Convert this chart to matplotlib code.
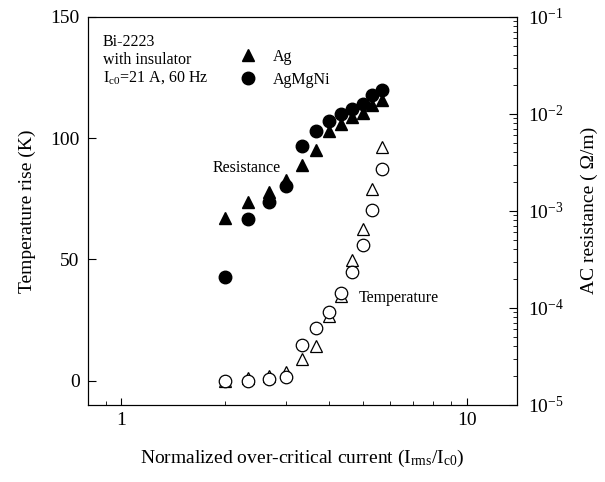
import matplotlib
matplotlib.use("Agg")
import matplotlib.pyplot as plt
from matplotlib.lines import Line2D
from matplotlib.ticker import LogLocator, NullFormatter, FixedLocator

plt.rcParams['font.family'] = ['Liberation Serif', 'DejaVu Serif']
plt.rcParams['mathtext.fontset'] = 'custom'
plt.rcParams['mathtext.rm'] = 'Liberation Serif'
plt.rcParams['mathtext.it'] = 'Liberation Serif'

# normalized current I_rms / I_c0 (steps of 7 A with I_c0 = 21 A)
current = [2.0, 2.33, 2.67, 3.0, 3.33, 3.67, 4.0, 4.33, 4.67, 5.0, 5.33, 5.67]

# temperature rise (K), open symbols
temp_ag = [0.0, 1.0, 2.0, 3.5, 8.9, 14.4, 26.5, 34.7, 49.9, 62.5, 79.0, 96.3]
temp_agmgni = [0.0, 0.0, 0.5, 1.7, 14.8, 21.7, 28.1, 36.1, 45.0, 56.0, 70.5, 87.2]

# AC resistance (ohm/m), filled symbols
res_ag = [8.5e-4, 1.24e-3, 1.58e-3, 2.07e-3, 2.97e-3, 4.2e-3, 6.6e-3,
          7.85e-3, 9.2e-3, 1.02e-2, 1.24e-2, 1.4e-2]
res_agmgni = [2.07e-4, 8.2e-4, 1.22e-3, 1.8e-3, 4.65e-3, 6.7e-3, 8.4e-3,
              9.96e-3, 1.13e-2, 1.27e-2, 1.55e-2, 1.77e-2]

fig = plt.figure(figsize=(6.05, 4.82), dpi=100)
ax = fig.add_axes([0.1455, 0.160, 0.709, 0.805])
ax2 = ax.twinx()

# temperature (left axis)
ax.plot(current, temp_ag, linestyle='none', marker='^', markersize=8,
        markerfacecolor='white', markeredgecolor='black', markeredgewidth=0.9)
ax.plot(current, temp_agmgni, linestyle='none', marker='o', markersize=9,
        markerfacecolor='white', markeredgecolor='black', markeredgewidth=0.9)

# resistance (right axis)
ax2.plot(current, res_ag, linestyle='none', marker='^', markersize=9,
         color='black')
ax2.plot(current, res_agmgni, linestyle='none', marker='o', markersize=9,
         color='black')

ax.set_xscale('log')
ax.set_xlim(0.8, 14)
ax.set_ylim(-10, 150)
ax.set_yticks([0, 50, 100, 150])
ax.xaxis.set_major_locator(FixedLocator([1, 10]))
ax.set_xticklabels(['1', '10'])
ax.xaxis.set_minor_locator(LogLocator(base=10, subs=range(2, 10)))
ax.xaxis.set_minor_formatter(NullFormatter())

ax2.set_yscale('log')
ax2.set_ylim(1e-5, 1e-1)
ax2.yaxis.set_major_locator(LogLocator(base=10, numticks=10))
ax2.yaxis.set_minor_locator(LogLocator(base=10, subs=range(2, 10), numticks=10))
ax2.yaxis.set_minor_formatter(NullFormatter())

ax.tick_params(axis='both', which='both', direction='in', labelsize=14,
               top=False, right=False)
ax.tick_params(axis='x', which='major', length=5, pad=5)
ax.tick_params(axis='x', which='minor', length=3)
ax.tick_params(axis='y', which='major', length=6, pad=6)
ax2.tick_params(axis='y', which='both', direction='in', labelsize=14)
ax2.tick_params(axis='y', which='major', length=6, pad=8)
ax2.tick_params(axis='y', which='minor', length=3)

ax.set_xlabel('Normalized over-critical current (I$_{rms}$/I$_{c0}$)',
              fontsize=14, labelpad=14)
ax.set_ylabel('Temperature rise (K)', fontsize=14, labelpad=10)
ax2.set_ylabel('AC resistance ( \u03a9/m)', fontsize=14, labelpad=12)

ax.text(0.035, 0.955, 'Bi-2223\nwith insulator\nI$_{c0}$=21 A, 60 Hz',
        transform=ax.transAxes, fontsize=11.5, va='top', ha='left',
        linespacing=1.1)
ax.text(0.29, 0.61, 'Resistance', transform=ax.transAxes, fontsize=11.5,
        va='center', ha='left')
ax.text(0.63, 0.275, 'Temperature', transform=ax.transAxes, fontsize=11.5,
        va='center', ha='left')

handles = [
    Line2D([], [], linestyle='none', marker='^', markersize=9, color='black'),
    Line2D([], [], linestyle='none', marker='o', markersize=9, color='black'),
]
ax.legend(handles, ['Ag', 'AgMgNi'], loc='upper left',
          bbox_to_anchor=(0.32, 0.955), frameon=False, fontsize=11.5,
          handletextpad=1.1, labelspacing=0.45, handlelength=1.0)

fig.savefig('out.png', dpi=100)
